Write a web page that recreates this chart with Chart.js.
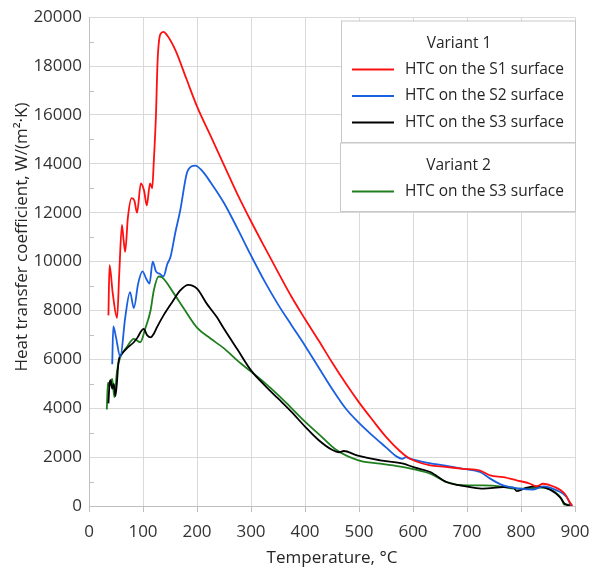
<html>
<head>
<script src="https://cdn.jsdelivr.net/npm/chart.js@4.4.1/dist/chart.umd.min.js"></script>
<style>
  body { margin: 0; background: #fff; }
  #wrap { position: relative; width: 591px; height: 569px; }
</style>
</head>
<body>
<div id="wrap"><canvas id="htc-chart" width="591" height="569"></canvas></div>

<script>
// temperatures (deg C) and heat transfer coefficients W/(m2 K)
var s1Temp = [36,38,44,52,56,61,64,67,72,79,84,89,96,102,107,113,117,120,124,127,132,138,145,160,180,200,225,250,275,300,325,350,375,400,425,450,475,500,525,550,575,590,605,630,660,693,724,743,767,792,817,829,841,860,881,890,895]
var s1Htc  = [7800,9850,8700,7700,9500,11500,10900,10400,11800,12600,12500,12000,13200,12900,12300,13200,13000,14100,16000,18200,19300,19400,19250,18650,17500,16350,15150,13950,12750,11650,10600,9570,8560,7650,6780,5880,5030,4240,3520,2830,2260,1990,1830,1670,1600,1520,1450,1250,1180,1050,910,800,910,800,500,160,0]

var s2Temp = [43,45,50,58,67,76,83,91,99,106,112,118,124,131,138,145,151,160,169,181,190,197,210,225,250,275,300,325,350,375,400,425,450,475,500,525,550,570,580,587,594,620,660,693,724,743,767,798,823,841,866,885,893]
var s2Htc  = [5800,7350,6900,6100,7700,8750,8100,9100,9600,9300,9100,10000,9600,9500,9400,9900,10200,11200,12100,13600,13900,13930,13700,13250,12400,11350,10250,9200,8250,7400,6560,5680,4800,4000,3400,2880,2400,2020,1930,2000,1940,1800,1650,1520,1390,1120,840,710,670,800,640,360,0]

var s3Temp = [36,38,40,43,46,49,55,61,70,83,90,95,101,108,114,120,126,138,154,169,184,200,218,237,250,275,300,325,350,375,400,425,450,463,472,496,539,582,601,632,662,687,706,730,767,786,792,811,829,854,872,881,894]
var s3Htc  = [4200,5000,5150,4800,5000,4500,5950,6230,6450,6700,6900,7100,7250,6980,6900,7050,7320,7800,8340,8820,9050,8890,8280,7720,7250,6400,5550,4950,4400,3850,3250,2700,2300,2200,2250,2070,1870,1730,1590,1390,980,840,770,710,770,750,610,750,800,670,360,90,0]

var v2Temp = [33,35,38,43,47,52,58,70,83,95,104,114,120,129,135,157,175,200,225,250,275,300,325,350,373,400,430,459,499,539,582,632,662,700,730,767,786,810,835,860,875,880,895]
var v2Htc  = [3950,5050,4900,5200,4450,5550,6090,6500,6840,6700,7250,8000,8820,9390,9360,8700,8100,7300,6850,6450,5950,5500,5050,4550,4050,3450,2850,2280,1870,1730,1590,1320,980,840,840,780,710,710,750,610,300,60,60]

var seriesLabels = ["HTC on the S1 surface", "HTC on the S2 surface", "HTC on the S3 surface", "HTC on the S3 surface"]
var seriesColors = ["#ff1010", "#1a5fe0", "#000000", "#1f7f1f"]
var legendGroups = [
  {title: "Variant 1", items: [0, 1, 2]},
  {title: "Variant 2", items: [3]}
]

var FONT = "'Open Sans', 'DejaVu Sans', sans-serif"

function toPoints(xs, ys){
  var pts = []
  for (var i = 0; i < xs.length; i++){
    pts.push({x: xs[i], y: ys[i]})
  }
  return pts
}

function makeSet(idx, xs, ys){
  return {
    label: seriesLabels[idx],
    data: toPoints(xs, ys),
    borderColor: seriesColors[idx],
    borderWidth: 1.8,
    pointRadius: 0,
    fill: false,
    cubicInterpolationMode: 'monotone'
  }
}

// two framed legend boxes, like the original figure
var boxLegend = {
  id: 'boxLegend',
  afterDraw: function(chart){
    var ctx = chart.ctx
    var boxes = [
      {x: 341.5, y: 21, w: 234, h: 121.5},
      {x: 340.5, y: 143, w: 235, h: 68.5}
    ]
    ctx.save()
    ctx.font = "15.5px " + FONT
    legendGroups.forEach(function(g, gi){
      var b = boxes[gi]
      ctx.fillStyle = '#ffffff'
      ctx.fillRect(b.x, b.y, b.w, b.h)
      ctx.strokeStyle = '#c8c8c8'
      ctx.lineWidth = 1
      ctx.strokeRect(b.x, b.y, b.w, b.h)
      ctx.fillStyle = '#262626'
      ctx.textAlign = 'center'
      ctx.textBaseline = 'middle'
      ctx.fillText(g.title, b.x + b.w / 2 + 0.5, b.y + 22.5)
      g.items.forEach(function(idx, k){
        var yy = b.y + 48.5 + k * 26.5
        ctx.strokeStyle = seriesColors[idx]
        ctx.lineWidth = 1.8
        ctx.beginPath()
        ctx.moveTo(352, yy)
        ctx.lineTo(394, yy)
        ctx.stroke()
        ctx.fillStyle = '#262626'
        ctx.textAlign = 'left'
        ctx.fillText(seriesLabels[idx], 405, yy)
      })
    })
    ctx.restore()
  }
}

// small inside tick marks at the odd thousands, as on the original y axis
var minorTicks = {
  id: 'minorTicks',
  afterDatasetsDraw: function(chart){
    var ctx = chart.ctx
    var y = chart.scales.y
    ctx.save()
    ctx.strokeStyle = '#bfbfbf'
    ctx.lineWidth = 1
    for (var v = 1000; v < 20000; v += 2000){
      var py = Math.round(y.getPixelForValue(v)) + 0.5
      ctx.beginPath()
      ctx.moveTo(y.right, py)
      ctx.lineTo(y.right + 5, py)
      ctx.stroke()
    }
    ctx.restore()
  }
}

// y axis title sits a little above the middle of the axis in the original
var yTitle = {
  id: 'yTitle',
  afterDraw: function(chart){
    var ctx = chart.ctx
    ctx.save()
    ctx.translate(22, 237)
    ctx.rotate(-Math.PI / 2)
    ctx.font = "17px " + FONT
    ctx.fillStyle = '#262626'
    ctx.textAlign = 'center'
    ctx.textBaseline = 'middle'
    ctx.fillText("Heat transfer coefficient, W/(m\u00B2\u00B7K)", 0, 0)
    ctx.restore()
  }
}

var myChart = new Chart(document.getElementById("htc-chart"), {
  type: 'line',
  data: {
    datasets: [
      makeSet(0, s1Temp, s1Htc),
      makeSet(1, s2Temp, s2Htc),
      makeSet(2, s3Temp, s3Htc),
      makeSet(3, v2Temp, v2Htc)
    ]
  },
  options: {
    responsive: false,
    animation: false,
    layout: {padding: {top: 16, right: 16, left: 0, bottom: 0}},
    plugins: {
      legend: {display: false},
      tooltip: {enabled: false}
    },
    scales: {
      x: {
        type: 'linear',
        min: 0,
        max: 900,
        afterFit: function(scale){ scale.height = 63; scale.paddingRight = 0; scale.paddingLeft = 0 },
        ticks: {stepSize: 100, color: '#333333', font: {size: 17, family: FONT}, padding: 10, maxRotation: 0,
                callback: function(v){ return String(v) }},
        grid: {color: '#d9d9d9', tickColor: '#bfbfbf', tickLength: 6},
        border: {color: '#bfbfbf'},
        title: {display: true, text: 'Temperature, \u00B0C', color: '#262626', font: {size: 17, family: FONT}, padding: {top: 0, bottom: 1}}
      },
      y: {
        min: 0,
        max: 20000,
        afterFit: function(scale){ scale.width = 89 },
        ticks: {stepSize: 2000, color: '#333333', font: {size: 17, family: FONT}, padding: 7,
                callback: function(v){ return String(v) }},
        grid: {color: '#d9d9d9', drawTicks: false},
        border: {color: '#bfbfbf'}
      }
    }
  },
  plugins: [minorTicks, boxLegend, yTitle]
});
</script>
</body>
</html>
